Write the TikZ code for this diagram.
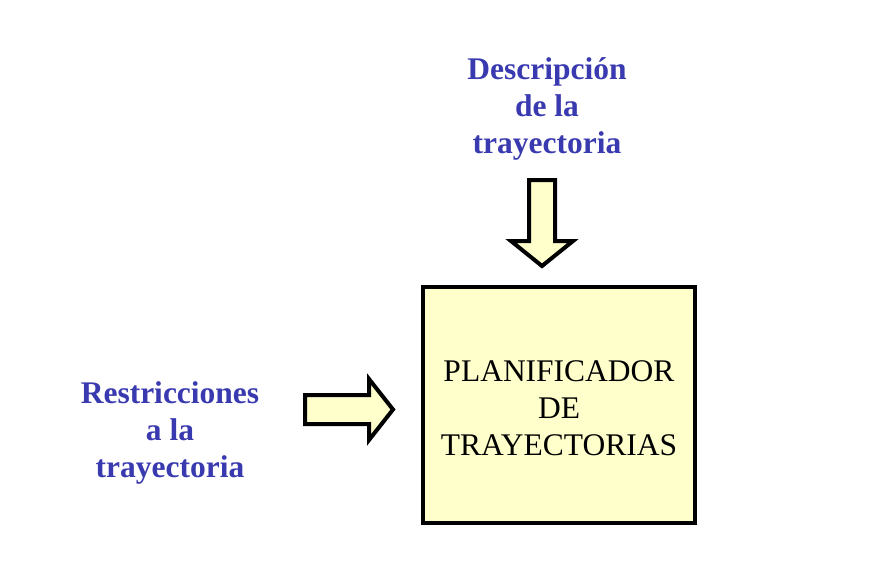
\documentclass[tikz,border=0pt]{standalone}
\usepackage{fontspec}
\setmainfont{Liberation Serif}
\definecolor{lblue}{HTML}{3A3AB0}
\definecolor{pale}{HTML}{FFFFCC}
\tikzset{
  lbl/.style={text=lblue, font=\fontsize{31.5pt}{37pt}\selectfont\bfseries, align=center, inner sep=0pt},
  blockbox/.style={draw=black, line width=4pt, fill=pale, minimum width=272pt, minimum height=236pt, align=center, inner sep=0pt},
  fatarrow/.style={draw=black, line width=4pt, fill=pale, line join=miter}
}
\begin{document}
\begin{tikzpicture}[x=1pt,y=-1pt]
\useasboundingbox (0,0) rectangle (880,583);
\node[blockbox] (plan) at (559,405) {};
\node[align=center, inner sep=0pt, font=\fontsize{31.5pt}{37pt}\selectfont] (plantext) at (559,408) {PLANIFICADOR\\DE\\TRAYECTORIAS};
\node[lbl] (desc) at (547,109) {Descripción\\de la\\trayectoria};
\node[lbl] (rest) at (170,433) {Restricciones\\a la\\trayectoria};
% down arrow
\draw[fatarrow] (529,180) -- (555,180) -- (555,241) -- (573,241) -- (542,266) -- (511,241) -- (529,241) -- cycle;
% right arrow
\draw[fatarrow] (305,395) -- (369,395) -- (369,379) -- (393,409.5) -- (369,440) -- (369,424) -- (305,424) -- cycle;
\end{tikzpicture}
\end{document}
